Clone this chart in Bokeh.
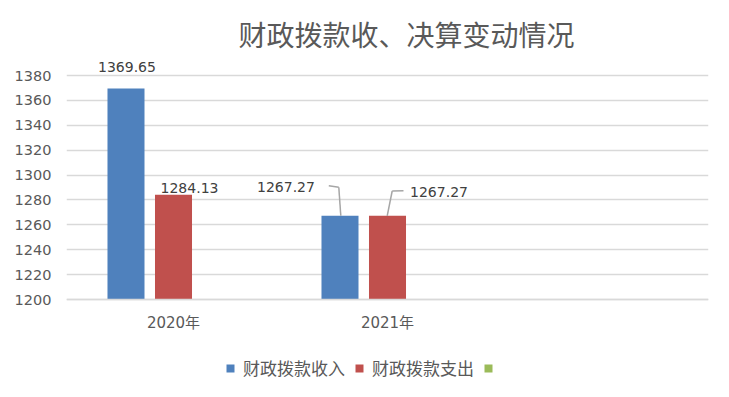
import math
from bokeh.plotting import figure
from bokeh.models import (FactorRange, Range1d, ColumnDataSource, Legend, LegendItem,
                          FixedTicker)
from bokeh.transform import dodge
from bokeh.core.properties import value
from bokeh.embed import file_html
from bokeh.resources import INLINE

# ---- data ----
categories = ["2020年", "2021年", " "]
series_names = ["财政拨款收入", "财政拨款支出", ""]
income = [1369.65, 1267.27, float("nan")]
expenditure = [1284.13, 1267.27, float("nan")]
third = [float("nan"), float("nan"), float("nan")]
y_ticks = [1200, 1220, 1240, 1260, 1280, 1300, 1320, 1340, 1360, 1380]
title_text = "财政拨款收、决算变动情况"

# ---- style ----
BLUE, RED, GREEN = "#4F81BD", "#C0504D", "#9BBB59"
GRID = "#d9d9d9"
TXT = "#595959"
LBL = "#404040"
NUMFONT = "DejaVu Sans"
CJK = "Noto Sans CJK SC"

W, H = 713, 381
ML, MR, MT, MB = 66, 5, 61, 0
FRAME_W = W - ML - MR
AXIS_PX = 224                      # pixel height from first to last tick
TOP_EXTRA = 14                     # room above last tick for the data label
BOTTOM_EXTRA = 82                  # room below the baseline for axis labels + legend
base = y_ticks[0]
px_y = AXIS_PX / (y_ticks[-1] - y_ticks[0])
Y1 = y_ticks[-1] + TOP_EXTRA / px_y
Y0 = base - BOTTOM_EXTRA / px_y
px_x = FRAME_W / len(categories)

OFF = 0.222
BW = 0.173

src = ColumnDataSource(dict(cat=categories, income=income, exp=expenditure, other=third))

p = figure(x_range=FactorRange(*categories), y_range=Range1d(Y0, Y1),
           width=W, height=H, output_backend="svg", toolbar_location=None,
           min_border_left=ML, min_border_right=MR, min_border_top=MT, min_border_bottom=MB)
p.outline_line_color = None
p.background_fill_color = "white"
p.border_fill_color = "white"

r1 = p.vbar(x=dodge("cat", -OFF, range=p.x_range), top="income", bottom=base, width=BW,
            source=src, fill_color=BLUE, line_color=None)
r2 = p.vbar(x=dodge("cat", 0.0, range=p.x_range), top="exp", bottom=base, width=BW,
            source=src, fill_color=RED, line_color=None)
r3 = p.vbar(x=dodge("cat", OFF, range=p.x_range), top="other", bottom=base, width=BW,
            source=src, fill_color=GREEN, line_color=None)

# ---- data labels ----
lab_dx = {(0, 0): 1, (0, 1): 16, (1, 0): -54, (1, 1): 51.5}
lab_dy = {(0, 0): -21.5, (0, 1): -7, (1, 0): -28.6, (1, 1): -23.6}
series_vals = [income, expenditure]
series_off = [-OFF, 0.0]
for s, vals in enumerate(series_vals):
    rows = [i for i, v in enumerate(vals) if not math.isnan(v)]
    ls = ColumnDataSource(dict(
        cat=[categories[i] for i in rows],
        y=[vals[i] for i in rows],
        txt=["%.2f" % vals[i] for i in rows],
        dx=[lab_dx[(i, s)] for i in rows],
        dy=[lab_dy[(i, s)] for i in rows],
    ))
    p.text(x=dodge("cat", series_off[s], range=p.x_range), y="y", text="txt",
           x_offset="dx", y_offset="dy", source=ls,
           text_font=value(NUMFONT), text_font_size="14px", text_color=LBL,
           text_align="center", text_baseline="middle")

# ---- leader lines for 2021 labels ----
LEAD = "#a6a6a6"
c21 = categories[1]
v_in, v_ex = income[1], expenditure[1]
pts_b = [(0.8, 0), (-1.2, 28.5), (-11.2, 30)]
pts_r = [(-0.3, 0), (4.7, 24.8), (16, 25)]
for off, v, pts in [(-OFF, v_in, pts_b), (0.0, v_ex, pts_r)]:
    for (ax, ay), (bx, by) in zip(pts[:-1], pts[1:]):
        seg = ColumnDataSource(dict(c=[c21], y0=[v + ay / px_y], y1=[v + by / px_y]))
        p.segment(x0=dodge("c", off + ax / px_x, range=p.x_range), y0="y0",
                  x1=dodge("c", off + bx / px_x, range=p.x_range), y1="y1",
                  source=seg, line_color=LEAD, line_width=1.5)

# ---- axes ----
p.yaxis.ticker = FixedTicker(ticks=y_ticks)
p.yaxis.axis_line_color = None
p.yaxis.major_tick_line_color = None
p.yaxis.minor_tick_line_color = None
p.yaxis.major_label_text_font = NUMFONT
p.yaxis.major_label_text_font_size = "14.5px"
p.yaxis.major_label_text_color = TXT
p.yaxis.major_label_standoff = 9

p.xaxis.fixed_location = base
p.xaxis.axis_line_color = GRID
p.xaxis.axis_line_width = 1.3
p.xaxis.major_tick_line_color = None
p.xaxis.minor_tick_line_color = None
p.xaxis.major_label_text_font = NUMFONT + ", " + CJK
p.xaxis.major_label_text_font_size = "15px"
p.xaxis.major_label_text_color = TXT
p.xaxis.major_label_standoff = 8

p.xgrid.grid_line_color = None
p.ygrid.grid_line_color = GRID
p.ygrid.grid_line_width = 1.3

# ---- title ----
p.title.text = title_text
p.title.text_font = CJK
p.title.text_font_size = "28px"
p.title.text_font_style = "normal"
p.title.text_color = TXT
p.title.align = "left"
p.title.offset = 172
p.title.standoff = 16

# ---- legend ----
legend = Legend(items=[LegendItem(label=series_names[0], renderers=[r1]),
                       LegendItem(label=series_names[1], renderers=[r2]),
                       LegendItem(label=series_names[2] or " ", renderers=[r3])],
                orientation="horizontal", location=(159, 1),
                glyph_width=10, glyph_height=10, label_standoff=8, spacing=9,
                padding=0, margin=0, border_line_color=None, background_fill_alpha=0,
                label_text_font=CJK, label_text_font_size="17px", label_text_color=TXT)
p.add_layout(legend, "center")

open("out.html", "w").write(file_html(p, INLINE))
